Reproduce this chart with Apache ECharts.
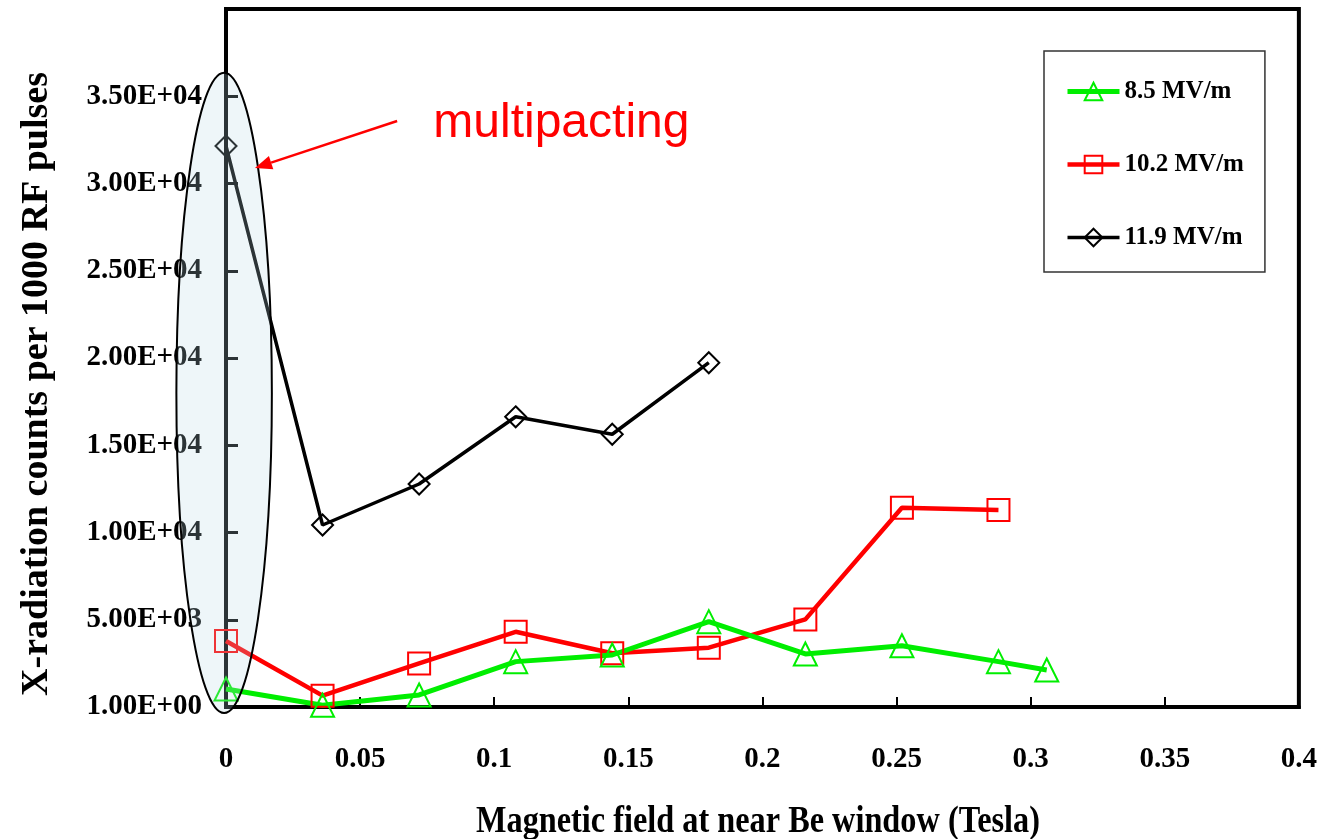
<!DOCTYPE html>
<html><head><meta charset="utf-8">
<script src="https://cdn.jsdelivr.net/npm/echarts@6/dist/echarts.min.js"></script>
<style>html,body{margin:0;padding:0;background:#fff}#c{width:1320px;height:839px}</style>
</head><body><div id="c"></div>
<script>
// ---- data ----
const fieldTesla = [0, 0.036, 0.072, 0.108, 0.144, 0.18, 0.216, 0.252, 0.288, 0.306];
const counts85  = [1030, 100, 690, 2600, 2980, 4890, 3040, 3510, 2600, 2120];
const counts102 = [3780, 650, 2500, 4310, 3080, 3400, 5020, 11420, 11290];
const counts119 = [32150, 10430, 12780, 16630, 15630, 19730];
const seriesNames = ['8.5 MV/m', '10.2 MV/m', '11.9 MV/m'];
const yTickLabels = ['1.00E+00','5.00E+03','1.00E+04','1.50E+04','2.00E+04','2.50E+04','3.00E+04','3.50E+04'];
const xTickLabels = ['0','0.05','0.1','0.15','0.2','0.25','0.3','0.35','0.4'];
const xTitle = 'Magnetic field at near Be window (Tesla)';
const yTitle = 'X-radiation counts per 1000 RF pulses';
const noteText = 'multipacting';

const serif = "'Liberation Serif','Times New Roman',serif";
const chart = echarts.init(document.getElementById('c'), null, {renderer: 'canvas'});

function pts(vals) { return vals.map((v, i) => [fieldTesla[i], v]); }
function mk(name, vals, color, symbol, size, lw) {
  return {
    name, type: 'line', data: pts(vals), symbol, symbolSize: size,
    lineStyle: {color, width: lw},
    itemStyle: {color: 'rgba(255,255,255,0)', borderColor: color, borderWidth: 2},
    emphasis: {disabled: true}, animation: false
  };
}

chart.setOption({
  animation: false,
  backgroundColor: '#fff',
  grid: {left: 226, right: 16, top: 9, bottom: 132, show: true, borderColor: '#000', borderWidth: 4, backgroundColor: 'transparent'},
  xAxis: {
    type: 'value', min: 0, max: 0.4, interval: 0.05,
    axisLine: {show: true, lineStyle: {color: '#000', width: 4}},
    axisTick: {show: true, inside: true, length: 10, lineStyle: {color: '#000', width: 2}},
    splitLine: {show: false},
    axisLabel: {margin: 38, fontFamily: serif, fontWeight: 'bold', fontSize: 29, color: '#000',
      formatter: v => xTickLabels[Math.round(v / 0.05)] ?? ''}
  },
  yAxis: {
    type: 'value', min: 0, max: 40000, interval: 5000,
    axisLine: {show: true, lineStyle: {color: '#000', width: 3}},
    axisTick: {show: true, inside: true, length: 12, lineStyle: {color: '#000', width: 3}},
    splitLine: {show: false},
    axisLabel: {margin: 24, fontFamily: serif, fontWeight: 'bold', fontSize: 29, color: '#000',
      formatter: v => yTickLabels[Math.round(v / 5000)] ?? ''}
  },
  legend: {
    orient: 'vertical', left: 1044, top: 51,
    padding: [28, 21, 22, 21], itemGap: 48, itemWidth: 52, itemHeight: 22,
    borderColor: '#333', borderWidth: 1.5, backgroundColor: '#fff',
    lineStyle: {width: 'inherit'},
    textStyle: {fontFamily: serif, fontWeight: 'bold', fontSize: 25, color: '#000'},
    data: seriesNames
  },
  series: [
    mk(seriesNames[1], counts102, '#ff0000', 'rect', 22, 4.5),
    mk(seriesNames[0], counts85, '#00ee00', 'triangle', 23, 5),
    mk(seriesNames[2], counts119, '#000000', 'diamond', 21, 3.5)
  ]
});

// ---- annotations placed through the axes ----
const P = (x, y) => chart.convertToPixel({gridIndex: 0}, [x, y]);
const eTop = P(-0.0007, 36350), eBot = P(-0.0007, -350), eSide = P(0.0171, 0);
const cx = eTop[0], cy = (eTop[1] + eBot[1]) / 2, ry = (eBot[1] - eTop[1]) / 2, rx = eSide[0] - cx;
const aS = P(0.0638, 33580), aT = P(0.0108, 30890);
const dx = aT[0] - aS[0], dy = aT[1] - aS[1], L = Math.hypot(dx, dy), ux = dx / L, uy = dy / L;
const hl = 17, hw = 7;
const base = [aT[0] - ux * hl, aT[1] - uy * hl];
const txt = P(0.0773, 33450);

chart.setOption({
  graphic: [
    {type: 'ellipse', z: 50, shape: {cx, cy, rx, ry}, style: {fill: 'rgba(185,218,228,0.24)', stroke: '#000', lineWidth: 2}, silent: true},
    {type: 'line', z: 51, shape: {x1: aS[0], y1: aS[1], x2: base[0], y2: base[1]}, style: {stroke: '#ff0000', lineWidth: 2.5}, silent: true},
    {type: 'polygon', z: 51, shape: {points: [aT, [base[0] - uy * hw, base[1] + ux * hw], [base[0] + uy * hw, base[1] - ux * hw]]}, style: {fill: '#ff0000'}, silent: true},
    {type: 'text', z: 51, x: txt[0], y: txt[1], style: {text: noteText, fill: '#ff0000', font: "48px 'Liberation Sans', Arial, sans-serif", textAlign: 'left', textVerticalAlign: 'middle'}, silent: true},
    {type: 'text', z: 51, x: 758, y: 822, scaleX: 0.85, style: {text: xTitle, fill: '#000', font: "bold 38px 'Liberation Serif','Times New Roman',serif", textAlign: 'center', textVerticalAlign: 'middle'}, silent: true},
    {type: 'text', z: 51, x: 37, y: 384, rotation: Math.PI / 2, style: {text: yTitle, fill: '#000', font: "bold 38px 'Liberation Serif','Times New Roman',serif", textAlign: 'center', textVerticalAlign: 'middle'}, silent: true}
  ]
});
</script>
</body></html>
